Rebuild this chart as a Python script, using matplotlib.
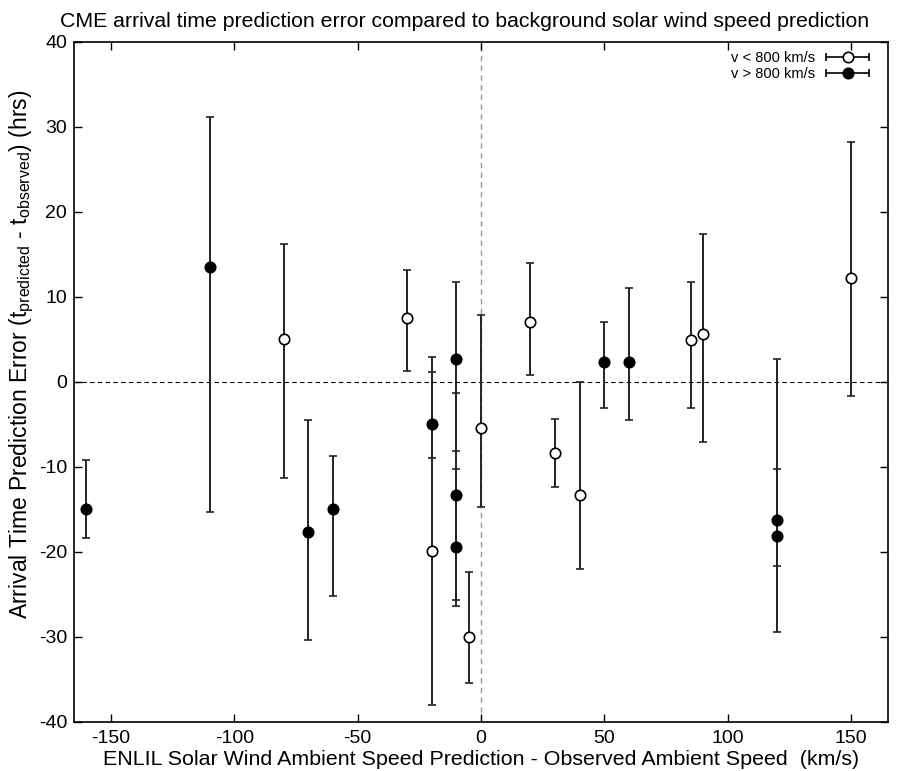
import matplotlib
matplotlib.use("Agg")
import matplotlib.pyplot as plt
from matplotlib.legend_handler import HandlerErrorbar
import numpy as np

plt.rcParams['font.family'] = ['Liberation Sans', 'DejaVu Sans']
plt.rcParams['axes.unicode_minus'] = False

# v < 800 km/s (open circles)
slow_x = [-80, -30, -20, -5, 0, 20, 30, 40, 85, 90, 150]
slow_y = [5.0, 7.5, -19.9, -30.0, -5.4, 7.1, -8.3, -13.3, 4.9, 5.6, 12.2]
slow_top = [16.2, 13.2, 1.2, -22.4, 7.9, 14.0, -4.3, 0.0, 11.8, 17.4, 28.2]
slow_bot = [-11.3, 1.3, -38.0, -35.4, -14.7, 0.8, -12.4, -22.0, -3.1, -7.1, -1.7]

# v > 800 km/s (filled circles)
fast_x = [-160, -110, -70, -60, -20, -10, -10, -10, 50, 60, 120, 120]
fast_y = [-14.9, 13.5, -17.7, -15.0, -4.9, 2.75, -13.3, -19.4, 2.3, 2.3, -16.2, -18.1]
fast_top = [-9.2, 31.2, -4.5, -8.7, 2.9, 11.8, -1.3, -10.2, 7.0, 11.1, -10.2, 2.7]
fast_bot = [-18.4, -15.3, -30.3, -25.2, -9.0, -8.1, -25.6, -26.3, -3.1, -4.5, -21.7, -29.4]

fig = plt.figure(figsize=(8.97, 7.71), dpi=100)
ax = fig.add_axes([0.0825, 0.0636, 0.9075, 0.882])

ax.axhline(0, color='black', ls=(0, (4, 3)), lw=0.8, zorder=1)
ax.axvline(0, color='#999999', ls=(0, (4, 3)), lw=1.0, zorder=1)

def draw(xs, ys, tops, bots, face):
    ys = np.array(ys); tops = np.array(tops); bots = np.array(bots)
    yerr = np.vstack([ys - bots, tops - ys])
    ax.errorbar(xs, ys, yerr=yerr, fmt='o', ms=7.5, mfc=face, mec='black', mew=1.2,
                ecolor='#222222', elinewidth=1.4, capsize=3, capthick=1.4, zorder=3)

draw(slow_x, slow_y, slow_top, slow_bot, 'white')
draw(fast_x, fast_y, fast_top, fast_bot, 'black')

# legend proxies
h1 = ax.errorbar([np.nan], [np.nan], xerr=[[1], [1]], fmt='o', ms=7.5, mfc='white', mec='black',
                 mew=1.2, ecolor='black', elinewidth=1.2, capsize=3, capthick=1.2,
                 label='v < 800 km/s')
h2 = ax.errorbar([np.nan], [np.nan], xerr=[[1], [1]], fmt='o', ms=7.5, mfc='black', mec='black',
                 mew=1.2, ecolor='black', elinewidth=1.2, capsize=3, capthick=1.2,
                 label='v > 800 km/s')
ax.legend(handles=[h1, h2], loc='upper right', bbox_to_anchor=(0.988, 1.0), frameon=False,
          markerfirst=False, fontsize=10.5, handlelength=3.0, handletextpad=0.7,
          labelspacing=0.15, borderaxespad=0.2,
          handler_map={type(h1): HandlerErrorbar(xerr_size=1.45)})

ax.set_xlim(-165, 165)
ax.set_ylim(-40, 40)
ax.set_xticks([-150, -100, -50, 0, 50, 100, 150])
ax.set_yticks(np.arange(-40, 41, 10))
ax.tick_params(direction='in', top=True, right=True, labelsize=14, length=6, width=1, pad=5)
ax.tick_params(axis='x', pad=6)
for s in ax.spines.values():
    s.set_linewidth(1.2)

ax.set_title('CME arrival time prediction error compared to background solar wind speed prediction',
             fontsize=15.3, pad=11, x=0.48)
ax.set_xlabel('ENLIL Solar Wind Ambient Speed Prediction - Observed Ambient Speed  (km/s)',
              fontsize=15.4, labelpad=2)
ax.set_ylabel(r'Arrival Time Prediction Error (t$_\mathregular{predicted}$ - t$_\mathregular{observed}$) (hrs)',
              fontsize=16.5, labelpad=2, y=0.54)

fig.savefig('out.png', dpi=100)
